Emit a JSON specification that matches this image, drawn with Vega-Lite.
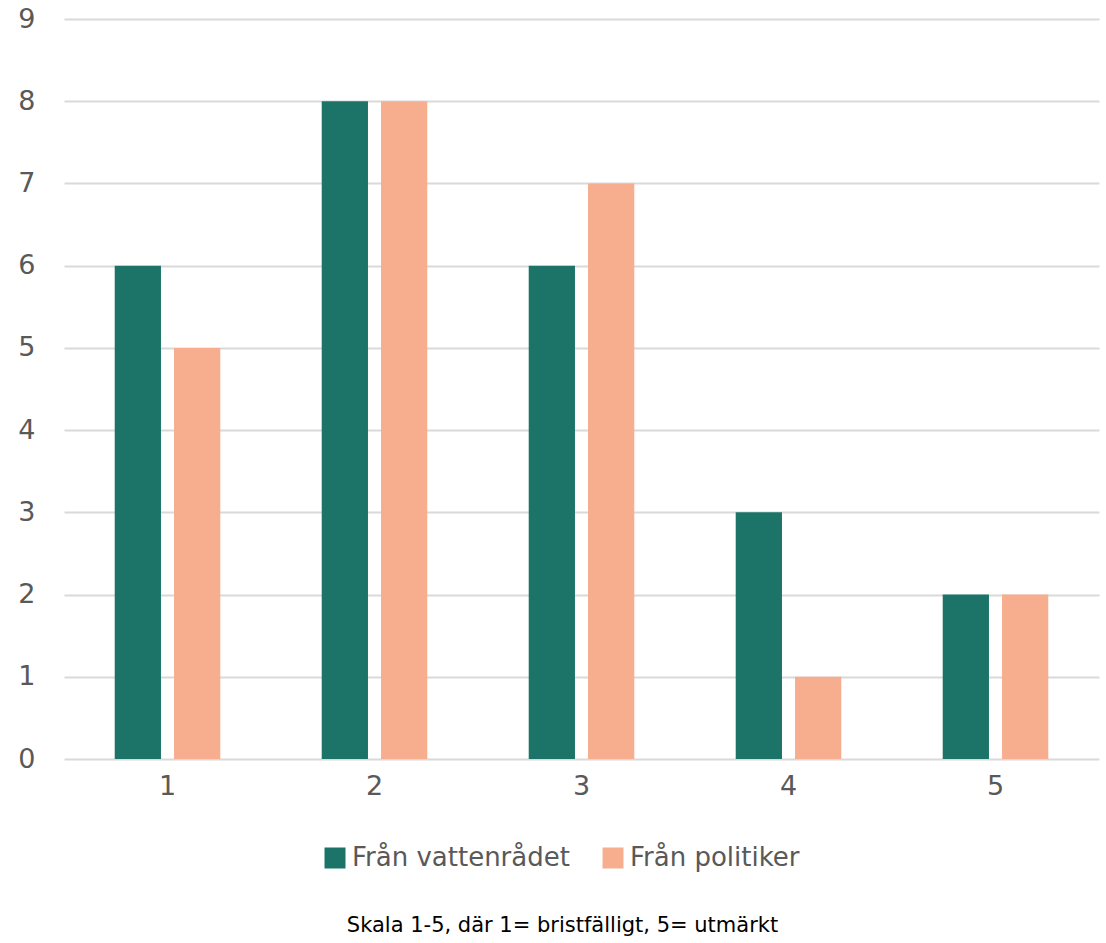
{
  "$schema": "https://vega.github.io/schema/vega-lite/v6.json",
  "width": 1035,
  "height": 740,
  "autosize": {"type": "none"},
  "padding": {"left": 64, "top": 19, "right": 7, "bottom": 184},
  "background": "white",
  "config": {
    "view": {"stroke": null},
    "font": "DejaVu Sans"
  },
  "data": {
    "values": [
      {"skala": "1", "serie": "Från vattenrådet", "antal": 6},
      {"skala": "1", "serie": "Från politiker", "antal": 5},
      {"skala": "2", "serie": "Från vattenrådet", "antal": 8},
      {"skala": "2", "serie": "Från politiker", "antal": 8},
      {"skala": "3", "serie": "Från vattenrådet", "antal": 6},
      {"skala": "3", "serie": "Från politiker", "antal": 7},
      {"skala": "4", "serie": "Från vattenrådet", "antal": 3},
      {"skala": "4", "serie": "Från politiker", "antal": 1},
      {"skala": "5", "serie": "Från vattenrådet", "antal": 2},
      {"skala": "5", "serie": "Från politiker", "antal": 2}
    ]
  },
  "mark": {"type": "bar"},
  "encoding": {
    "x": {
      "field": "skala",
      "type": "nominal",
      "scale": {"paddingInner": 0.49, "paddingOuter": 0.245},
      "axis": {
        "title": "Skala 1-5, där 1= bristfälligt, 5= utmärkt",
        "titleFontSize": 21,
        "titleFontWeight": "normal",
        "titleColor": "#000000",
        "titlePadding": 115,
        "titleX": 498,
        "titleAnchor": null,
        "labelAngle": 0,
        "labelFontSize": 27,
        "labelColor": "#595959",
        "labelPadding": 14,
        "domain": false,
        "ticks": false,
        "grid": false
      }
    },
    "xOffset": {
      "field": "serie",
      "type": "nominal",
      "sort": ["Från vattenrådet", "Från politiker"],
      "scale": {"paddingInner": 0.22, "paddingOuter": 0}
    },
    "y": {
      "field": "antal",
      "type": "quantitative",
      "scale": {"domain": [0, 9]},
      "axis": {
        "title": null,
        "values": [0, 1, 2, 3, 4, 5, 6, 7, 8, 9],
        "labelFontSize": 27,
        "labelColor": "#595959",
        "labelPadding": 29,
        "domain": false,
        "ticks": false,
        "gridColor": "#D9D9D9",
        "gridWidth": 2
      }
    },
    "color": {
      "field": "serie",
      "type": "nominal",
      "sort": ["Från vattenrådet", "Från politiker"],
      "scale": {"domain": ["Från vattenrådet", "Från politiker"], "range": ["#1B7467", "#F7AE8F"]},
      "legend": {
        "title": null,
        "orient": "none",
        "legendX": 258,
        "legendY": 826,
        "direction": "horizontal",
        "symbolType": "square",
        "symbolSize": 441,
        "symbolStrokeWidth": 0,
        "labelFontSize": 26,
        "labelLimit": 400,
        "labelColor": "#595959",
        "labelOffset": 4,
        "columnPadding": 30
      }
    }
  }
}
